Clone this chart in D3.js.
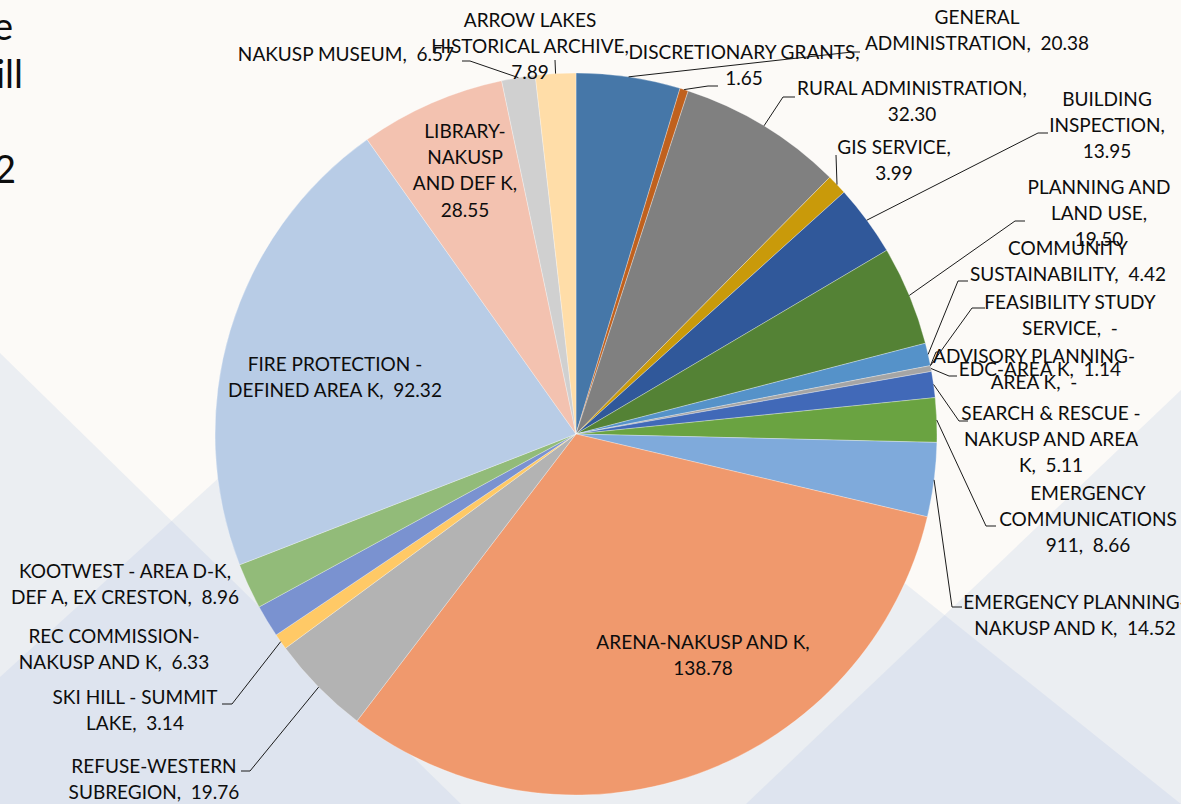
<!DOCTYPE html>
<html><head><meta charset="utf-8">
<script src="https://cdn.jsdelivr.net/npm/d3@7"></script>
<style>
html,body{margin:0;padding:0;background:#FCFAF7;overflow:hidden;}
svg{display:block;}
text{font-family:Lato,"Open Sans",sans-serif;white-space:pre;fill:#0d0d0d;}
</style></head><body>
<svg id="chart" width="1181" height="804"></svg>
<script>
// ---- data ----
const categories = [
  "GENERAL ADMINISTRATION","DISCRETIONARY GRANTS","RURAL ADMINISTRATION","GIS SERVICE",
  "BUILDING INSPECTION","PLANNING AND LAND USE","COMMUNITY SUSTAINABILITY","FEASIBILITY STUDY SERVICE",
  "ADVISORY PLANNING-AREA K","EDC-AREA K","SEARCH & RESCUE - NAKUSP AND AREA K","EMERGENCY COMMUNICATIONS 911",
  "EMERGENCY PLANNING-NAKUSP AND K","ARENA-NAKUSP AND K","REFUSE-WESTERN SUBREGION","SKI HILL - SUMMIT LAKE",
  "REC COMMISSION-NAKUSP AND K","KOOTWEST - AREA D-K, DEF A, EX CRESTON","FIRE PROTECTION - DEFINED AREA K",
  "LIBRARY-NAKUSP AND DEF K","NAKUSP MUSEUM","ARROW LAKES HISTORICAL ARCHIVE"
];
const values = [20.38,1.65,32.30,3.99,13.95,19.50,4.42,0,0,1.14,5.11,8.66,14.52,138.78,19.76,3.14,6.33,8.96,92.32,28.55,6.57,7.89];
const labelLines = [
  ["GENERAL","ADMINISTRATION,  {v}"],
  ["DISCRETIONARY GRANTS,","{v}"],
  ["RURAL ADMINISTRATION,","{v}"],
  ["GIS SERVICE,","{v}"],
  ["BUILDING","INSPECTION,","{v}"],
  ["PLANNING AND","LAND USE,","{v}"],
  ["COMMUNITY","SUSTAINABILITY,  {v}"],
  ["FEASIBILITY STUDY","SERVICE,  {v}"],
  ["ADVISORY PLANNING-","AREA K,  {v}"],
  ["EDC-AREA K,  {v}"],
  ["SEARCH & RESCUE -","NAKUSP AND AREA","K,  {v}"],
  ["EMERGENCY","COMMUNICATIONS","911,  {v}"],
  ["EMERGENCY PLANNING-","NAKUSP AND K,  {v}"],
  ["ARENA-NAKUSP AND K,","{v}"],
  ["REFUSE-WESTERN","SUBREGION,  {v}"],
  ["SKI HILL - SUMMIT","LAKE,  {v}"],
  ["REC COMMISSION-","NAKUSP AND K,  {v}"],
  ["KOOTWEST - AREA D-K,","DEF A, EX CRESTON,  {v}"],
  ["FIRE PROTECTION -","DEFINED AREA K,  {v}"],
  ["LIBRARY-","NAKUSP","AND DEF K,","{v}"],
  ["NAKUSP MUSEUM,  {v}"],
  ["ARROW LAKES","HISTORICAL ARCHIVE,","{v}"]
];
const colors = ["#4677A8","#C0611E","#808080","#C99A0A","#30589A","#548235","#5592C9","#5B9BD5",
  "#9E9E9E","#A5A5A5","#4169B8","#6AA341","#7FAADB","#F0996D","#B3B3B3","#FFC966","#7A92D0",
  "#92BB79","#B8CCE6","#F3C2B0","#D0D0D0","#FFDDA8"];

// ---- layout (label placement) ----
const labelPos = [
  {x:977,y:17,ld:[852,52,860,52]},
  {x:744,y:52,ld:[708,86,718,86]},
  {x:912,y:88,ld:[783,97,795,97]},
  {x:894,y:147,ld:[836,155,836,155]},
  {x:1107,y:99,ld:[1038,133,1048,133]},
  {x:1099,y:187,ld:[1015,221,1025,221]},
  {x:1068,y:248,ld:[958,281,968,281]},
  {x:1070,y:302,ld:[972,308,985,308]},
  {x:1034,y:356,ld:[936,352,938,352]},
  {x:1040,y:369,ld:[949,376,957,376]},
  {x:1051,y:413,ld:[959,421,968,421]},
  {x:1088,y:493,ld:[986,526,996,526]},
  {x:1075,y:602,ld:[952,607,962,607]},
  {x:703,y:642,ld:null},
  {x:154,y:766,ld:[250,771,241,771]},
  {x:135,y:697,ld:[232,704,222,704]},
  {x:114,y:636,ld:null},
  {x:125,y:571,ld:null},
  {x:335,y:364,ld:null},
  {x:465,y:131,ld:null},
  {x:346,y:54,ld:[470,61,462,61]},
  {x:530,y:20,ld:[555,60,555,60]}
];

const W = 1181, H = 804, cx = 576, cy = 434, R = 361, lineH = 26.3;
const svg = d3.select("#chart");

// background shapes
const bg = svg.append("g");
bg.append("rect").attr("width",W).attr("height",H).attr("fill","#FCFAF7");
const tri = [
  [[0,677],[478,242],[1181,804],[0,804]],
  [[0,353],[461,804],[0,804]],
  [[746,804],[1181,390],[1181,804]]
];
bg.selectAll("path.bgtri").data(tri).join("path")
  .attr("d", d => "M" + d.map(p=>p.join(",")).join("L") + "Z")
  .attr("fill","#B0C6E2").attr("fill-opacity",0.22);

// partial slide text at left edge
const side = [["e",13,40],["ill",23,88],["2",16,183]];
svg.selectAll("text.side").data(side).join("text")
  .attr("x",d=>d[1]).attr("y",d=>d[2]).attr("text-anchor","end")
  .style("font-size","38px").text(d=>d[0]);

// font fitting
const probe = svg.append("text").style("font-size","20px").text("RURAL ADMINISTRATION,");
const fs = 20 * 230 / probe.node().getComputedTextLength();
probe.remove();

// pie
const pie = d3.pie().sort(null).value(d=>d.v);
const data = values.map((v,i)=>({v,i}));
const arcs = pie(data);
const arc = d3.arc().innerRadius(0).outerRadius(R);
const edge = d3.arc().innerRadius(R).outerRadius(R);
const g = svg.append("g").attr("transform",`translate(${cx},${cy})`);
g.selectAll("path").data(arcs.filter(a=>a.data.v>0)).join("path")
  .attr("d",arc).attr("fill",d=>colors[d.data.i])
  .attr("stroke","#ffffff").attr("stroke-width",0.6).attr("stroke-opacity",0.5);

// leader lines
const fmt = v => v === 0 ? "-" : d3.format(".2f")(v);
svg.append("g").selectAll("path").data(arcs.filter(a=>labelPos[a.data.i].ld)).join("path")
  .attr("d", d => {
    const p = edge.centroid(d); const l = labelPos[d.data.i].ld;
    return `M${cx+p[0]},${cy+p[1]}L${l[0]},${l[1]}L${l[2]},${l[3]}`;
  })
  .attr("fill","none").attr("stroke","#1a1a1a").attr("stroke-width",1);

// labels
const lg = svg.append("g");
arcs.forEach(a => {
  const i = a.data.i, pos = labelPos[i];
  const t = lg.append("text").attr("text-anchor","middle").style("font-size",fs+"px");
  labelLines[i].forEach((ln,k) => {
    t.append("tspan").attr("x",pos.x).attr("y",pos.y + k*lineH + fs*0.36)
      .text(ln.replace("{v}", fmt(a.data.v)));
  });
});
</script>
</body></html>
